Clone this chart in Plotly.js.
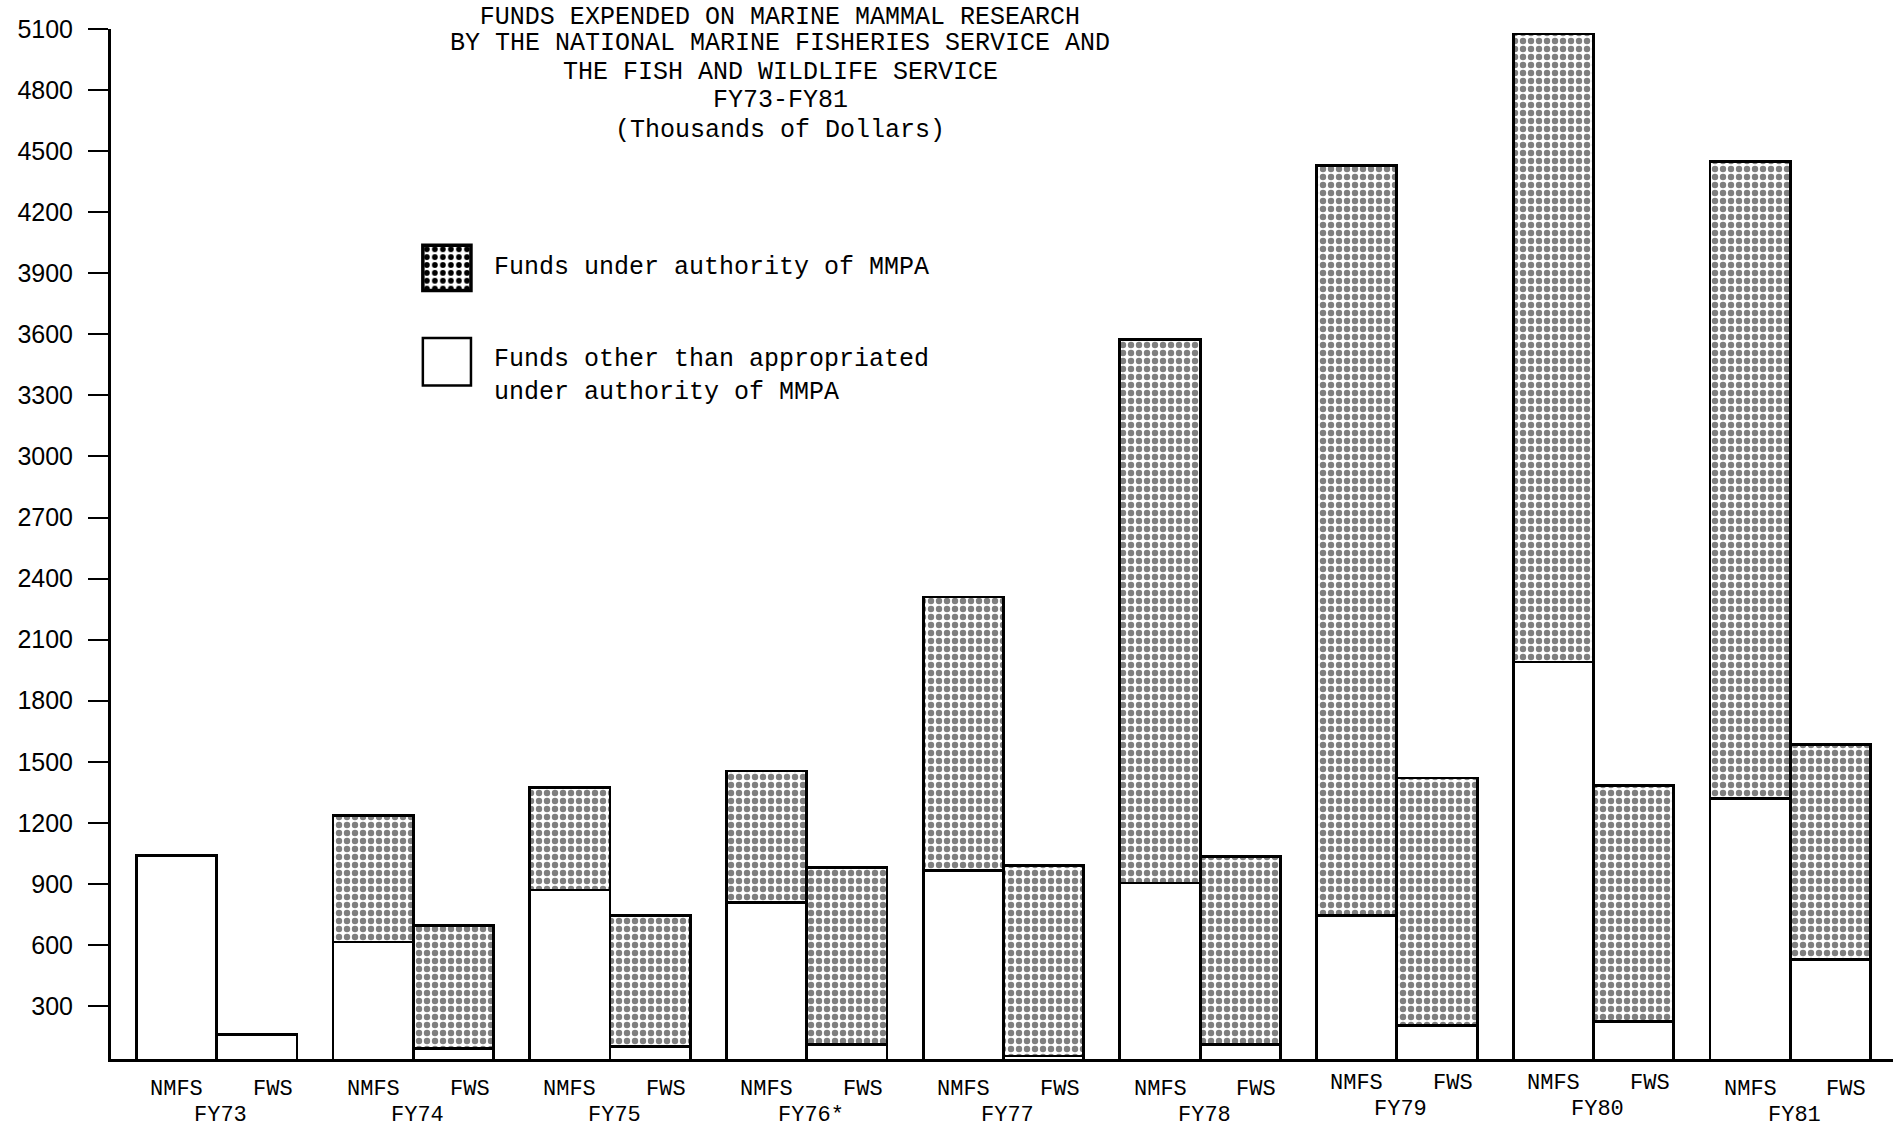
<!DOCTYPE html>
<html><head><meta charset="utf-8">
<script src="https://cdn.plot.ly/plotly-3.0.1.min.js"></script>
<style>html,body{margin:0;padding:0;background:#fff;} #chart{width:1893px;height:1130px;}</style>
</head><body><div id="chart"></div>
<script>
// ---- data (thousands of dollars) ----
const years = ['FY73', 'FY74', 'FY75', 'FY76*', 'FY77', 'FY78', 'FY79', 'FY80', 'FY81'];
const agencies = ['NMFS', 'FWS'];
const nmfsOther = [1040, 615, 870, 810, 965, 905, 745, 1990, 1320];
const nmfsMMPA  = [0, 620, 505, 645, 1345, 2670, 3685, 3085, 3130];
const fwsOther  = [160, 90, 100, 110, 55, 110, 205, 225, 530];
const fwsMMPA   = [0, 605, 645, 870, 935, 925, 1215, 1160, 1055];
const yTicks = [300, 600, 900, 1200, 1500, 1800, 2100, 2400, 2700, 3000, 3300, 3600, 3900, 4200, 4500, 4800, 5100];
const titleLines = ['FUNDS EXPENDED ON MARINE MAMMAL RESEARCH', 'BY THE NATIONAL MARINE FISHERIES SERVICE AND',
  'THE FISH AND WILDLIFE SERVICE', 'FY73-FY81', '(Thousands of Dollars)'];
const legendLabels = ['Funds under authority of MMPA', 'Funds other than appropriated<br>under authority of MMPA'];

// ---- layout helpers ----
const GROUP = 2.45;
const xN = years.map((_, i) => i * GROUP + 0.5);
const xF = years.map((_, i) => i * GROUP + 1.5);
const xs = [], other = [], mmpa = [], cats = [];
years.forEach((y, i) => {
  xs.push(xN[i], xF[i]);
  other.push(nmfsOther[i], fwsOther[i]);
  mmpa.push(nmfsMMPA[i], fwsMMPA[i]);
  cats.push(y + ' ' + agencies[0], y + ' ' + agencies[1]);
});

const MONO = 'Liberation Mono, Courier New, monospace';
const lineStyle = {color: '#000', width: 2.8};

const traces = [
  {type: 'bar', name: 'Funds other than appropriated under authority of MMPA', x: xs, y: other, width: 1,
   customdata: cats, marker: {color: '#fff', line: lineStyle}},
  {type: 'bar', name: 'Funds under authority of MMPA', x: xs, y: mmpa, width: 1,
   customdata: cats,
   marker: {color: '#fff', line: lineStyle,
            pattern: {shape: '.', fgcolor: '#000', bgcolor: '#fff', size: 8, solidity: 0.5, fillmode: 'overlay'}}}
];

const raised = {6: 6, 7: 6};
const annotations = [];
years.forEach((y, i) => {
  const up = raised[i] || 0;
  annotations.push({xref: 'x', yref: 'paper', x: xN[i], y: 0, yanchor: 'middle', yshift: -30 + up,
    text: agencies[0], showarrow: false, font: {family: MONO, size: 22, color: '#000'}});
  annotations.push({xref: 'x', yref: 'paper', x: xF[i] + 0.2, y: 0, yanchor: 'middle', yshift: -30 + up,
    text: agencies[1], showarrow: false, font: {family: MONO, size: 22, color: '#000'}});
  annotations.push({xref: 'x', yref: 'paper', x: i * GROUP + 1.05, y: 0, yanchor: 'middle', yshift: -56 + up,
    text: y, showarrow: false, font: {family: MONO, size: 22, color: '#000'}});
});
// subtitle lines (title line 1 is layout.title)
const subY = [44, 72, 100, 130]; // pixel centres from the top of the page
titleLines.slice(1).forEach((t, k) => {
  annotations.push({xref: 'paper', yref: 'paper', x: (780 - 111) / 1782, y: 1 - (subY[k] - 29) / 1030,
    xanchor: 'center', yanchor: 'middle', text: t, showarrow: false,
    font: {family: MONO, size: 25, color: '#000'}});
});
// legend texts
annotations.push({xref: 'paper', yref: 'paper', x: 0.214, y: 0.768, xanchor: 'left', yanchor: 'middle',
  text: legendLabels[0], showarrow: false, font: {family: MONO, size: 25, color: '#000'}});
annotations.push({xref: 'paper', yref: 'paper', x: 0.214, y: 0.663, xanchor: 'left', yanchor: 'middle', align: 'left',
  text: legendLabels[1], showarrow: false, font: {family: MONO, size: 25, color: '#000'}});

const svg = '<svg xmlns="http://www.w3.org/2000/svg" width="48" height="46">' +
  '<defs><pattern id="p" width="8" height="8" patternUnits="userSpaceOnUse">' +
  '<circle cx="4" cy="4" r="2.9" fill="#000"/></pattern></defs>' +
  '<rect width="48" height="46" fill="#fff"/><rect width="48" height="46" fill="url(#p)"/></svg>';

const layout = {
  width: 1893, height: 1130,
  margin: {l: 111, r: 0, t: 29, b: 71},
  paper_bgcolor: '#fff', plot_bgcolor: '#fff',
  barmode: 'stack', showlegend: false,
  title: {text: titleLines[0], x: 0.412, xanchor: 'center', xref: 'container',
          y: 1, yanchor: 'top', yref: 'container', pad: {t: 6, b: 0, l: 0, r: 0},
          font: {family: MONO, size: 25, color: '#000'}},
  xaxis: {range: [-0.316, 21.88], showgrid: false, zeroline: false, showticklabels: false, ticks: '',
          showline: true, linecolor: '#000', linewidth: 2.5, fixedrange: true},
  yaxis: {range: [40, 5100], tickvals: yTicks, ticktext: yTicks.map(String), showgrid: false, zeroline: false,
          ticks: 'outside', ticklen: 20, tickwidth: 2, tickcolor: '#000', ticklabelstandoff: 10,
          showline: true, linecolor: '#000', linewidth: 3,
          tickfont: {family: 'Liberation Sans, Arial, sans-serif', size: 25, color: '#000'}, fixedrange: true},
  annotations: annotations,
  images: [{source: 'data:image/svg+xml;base64,' + btoa(svg), xref: 'paper', yref: 'paper',
            x: 0.175, y: 0.790, sizex: 0.027, sizey: 0.044, sizing: 'stretch', xanchor: 'left', yanchor: 'top', layer: 'above'}],
  shapes: [
    {type: 'rect', xref: 'paper', yref: 'paper', x0: 0.175, x1: 0.202, y0: 0.746, y1: 0.790,
     line: {color: '#000', width: 3.5}, fillcolor: 'rgba(0,0,0,0)', layer: 'above'},
    {type: 'rect', xref: 'paper', yref: 'paper', x0: 0.175, x1: 0.202, y0: 0.654, y1: 0.700,
     line: {color: '#000', width: 2.5}, fillcolor: '#fff', layer: 'above'}
  ]
};

Plotly.newPlot('chart', traces, layout, {displayModeBar: false, staticPlot: true});
</script>
</body></html>
